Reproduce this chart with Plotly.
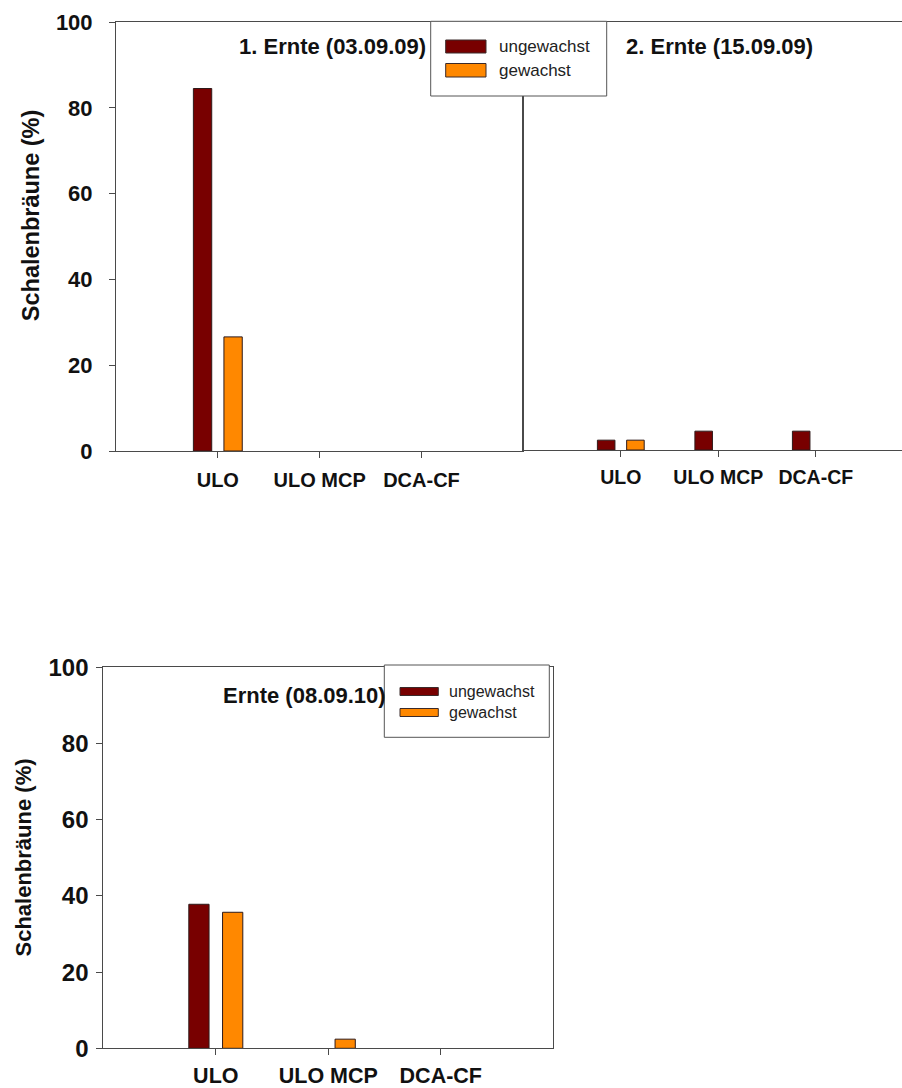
import plotly.graph_objects as go

W, H = 902, 1088

categories = ["ULO", "ULO MCP", "DCA-CF"]
y_tick_vals = [0, 20, 40, 60, 80, 100]
series_names = ["ungewachst", "gewachst"]

# Schalenbräune (%) per storage variant
ernte1_ungewachst = [84.5, 0, 0]
ernte1_gewachst = [26.6, 0, 0]
ernte2_ungewachst = [2.3, 4.4, 4.4]
ernte2_gewachst = [2.3, 0, 0]
ernte2010_ungewachst = [37.8, 0, 0]
ernte2010_gewachst = [35.7, 2.4, 0]

panel_titles = ["1. Ernte (03.09.09)", "2. Ernte (15.09.09)", "Ernte (08.09.10)"]
y_title = "Schalenbräune (%)"

COL_UNG = "#780000"
COL_GEW = "#ff8800"
AXIS_COL = "#4a4a4a"
FONT = "Liberation Sans, Arial, sans-serif"


def px(x):
    return x / W


def py(y):
    return 1 - y / H


fig = go.Figure()

panels = [
    ("x", "y", ernte1_ungewachst, ernte1_gewachst),
    ("x2", "y2", ernte2_ungewachst, ernte2_gewachst),
    ("x3", "y3", ernte2010_ungewachst, ernte2010_gewachst),
]
for xa, ya, ung, gew in panels:
    for name, vals, col in ((series_names[0], ung, COL_UNG), (series_names[1], gew, COL_GEW)):
        fig.add_trace(go.Bar(
            x=categories, y=vals, name=name, xaxis=xa, yaxis=ya,
            # zero-height bars get no outline so nothing shows on the axis
            marker=dict(color=col, line=dict(color="#2e1a1a",
                                             width=[1 if v > 0 else 0 for v in vals])),
            showlegend=False,
        ))

common_x = dict(
    type="category", showline=True, linecolor=AXIS_COL, linewidth=1, mirror=True,
    ticks="outside", ticklen=6, tickcolor=AXIS_COL, showgrid=False, zeroline=False,
    automargin=False,
)
common_y = dict(
    range=[0, 100], tickvals=y_tick_vals, showline=True, linecolor=AXIS_COL, linewidth=1,
    ticks="outside", ticklen=6, tickcolor=AXIS_COL, showgrid=False, zeroline=False,
    automargin=False,
)

fig.update_layout(
    width=W, height=H, margin=dict(l=0, r=0, t=0, b=0, pad=0, autoexpand=False),
    paper_bgcolor="white", plot_bgcolor="white", showlegend=False,
    barmode="group", bargap=0.4, bargroupgap=0.4,
    font=dict(family=FONT, color="#111"),
    xaxis=dict(common_x, domain=[px(116), px(523.3)], range=[-1, 3], anchor="y",
               ticklabelstandoff=5, tickfont=dict(size=20, weight="bold", color="#111")),
    yaxis=dict(common_y, domain=[py(451), py(22)], anchor="x", mirror=True,
               ticklabelstandoff=12, tickfont=dict(size=22, weight="bold", color="#111")),
    xaxis2=dict(common_x, domain=[px(523.3), 1], range=[-1, 2.884], anchor="y2",
                ticklabelstandoff=4, tickfont=dict(size=19.5, weight="bold", color="#111")),
    yaxis2=dict(common_y, domain=[py(450), py(22)], anchor="x2", mirror=False,
                ticks="", showticklabels=False),
    xaxis3=dict(common_x, domain=[px(103.3), px(553.3)], range=[-1, 3], anchor="y3",
                ticklabelstandoff=2, tickfont=dict(size=21.5, weight="bold", color="#111")),
    yaxis3=dict(common_y, domain=[py(1048.3), py(667.3)], anchor="x3", mirror=True,
                ticklabelstandoff=3, tickfont=dict(size=24, weight="bold", color="#111")),
)

annotations = []
shapes = []

# panel titles
for text, cx, cy in ((panel_titles[0], 332.5, 46.5), (panel_titles[1], 719.7, 46.5),
                     (panel_titles[2], 304, 695.7)):
    annotations.append(dict(
        text=f"<b>{text}</b>", x=px(cx), y=py(cy), xref="paper", yref="paper",
        xanchor="center", yanchor="middle", showarrow=False,
        font=dict(size=22, family=FONT, color="#111"),
    ))

# y-axis titles
for cx, cy, size in ((31.7, 215.5, 23.5), (23, 857.5, 22)):
    annotations.append(dict(
        text=f"<b>{y_title}</b>", x=px(cx), y=py(cy), xref="paper", yref="paper",
        xanchor="center", yanchor="middle", showarrow=False, textangle=-90,
        font=dict(size=size, family=FONT, color="#111"),
    ))

# legend boxes (drawn above the axis lines)
legends = [
    dict(box=(430.7, 21.3, 606.7, 96), sw_x=(445.7, 486), rows=[(40, 53), (63.5, 77)],
         text_x=496.7, size=17),
    dict(box=(384.3, 665, 549.3, 737.3), sw_x=(400, 438.3), rows=[(687.5, 695.5), (708.5, 716.5)],
         text_x=446.7, size=16),
]
for lg in legends:
    x0, y0, x1, y1 = lg["box"]
    shapes.append(dict(type="rect", xref="paper", yref="paper", layer="above",
                       x0=px(x0), x1=px(x1), y0=py(y1), y1=py(y0),
                       fillcolor="white", line=dict(color="#555", width=1)))
    for (r0, r1), name, col in zip(lg["rows"], series_names, (COL_UNG, COL_GEW)):
        shapes.append(dict(type="rect", xref="paper", yref="paper", layer="above",
                           x0=px(lg["sw_x"][0]), x1=px(lg["sw_x"][1]), y0=py(r1), y1=py(r0),
                           fillcolor=col, line=dict(color="#3a2a2a", width=1)))
        annotations.append(dict(
            text=name, x=px(lg["text_x"]), y=py((r0 + r1) / 2), xref="paper", yref="paper",
            xanchor="left", yanchor="middle", showarrow=False,
            font=dict(size=lg["size"], family=FONT, color="#222"),
        ))

fig.update_layout(annotations=annotations, shapes=shapes)
fig.write_html("out.html")
